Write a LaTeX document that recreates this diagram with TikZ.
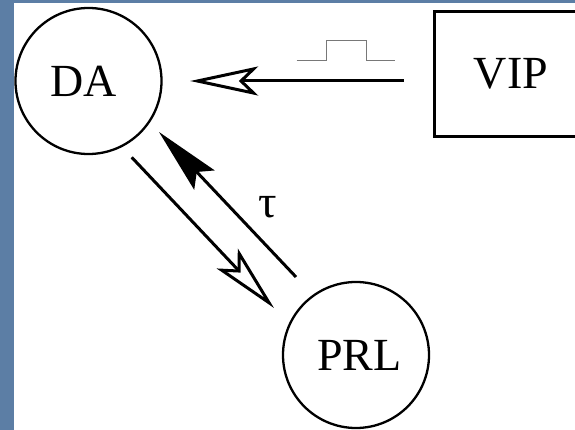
\documentclass[tikz,border=0pt]{standalone}
\usepackage{fontspec}
\setmainfont{Liberation Serif}
\usetikzlibrary{arrows.meta,calc}
\definecolor{bgblue}{RGB}{92,126,165}
\definecolor{pulsegray}{RGB}{120,120,120}
\newcommand{\nudge}[3]{\raisebox{#2}{\hspace*{#1}#3}}
\begin{document}
\begin{tikzpicture}[x=1pt,y=-1pt,
  unit/.style={circle,draw,line width=2.3pt,minimum size=146pt,inner sep=0pt,font=\fontsize{46}{50}\selectfont},
  boxnode/.style={rectangle,draw,line width=3pt,minimum width=160pt,minimum height=125pt,inner sep=0pt,font=\fontsize{46}{50}\selectfont},
  lbl/.style={inner sep=0pt,font=\fontsize{46}{50}\selectfont},
  conn/.style={line width=3pt},
  openhead/.style={-{Stealth[length=68pt,width=29pt,inset=15pt,fill=white]}},
  fullhead/.style={-{Stealth[length=66pt,width=28pt,inset=11pt]}},
  pulse/.style={line width=1pt,draw=pulsegray}]
\useasboundingbox (0,0) rectangle (575,430);
\clip (0,0) rectangle (575,430);
\fill[bgblue] (0,0) rectangle (575,430);
\fill[white] (14,3.5) rectangle (575,430);
\node[unit] (DA) at (88.5,81) {\nudge{-10pt}{-3pt}{DA}};
\node[unit] (PRL) at (356,355) {\nudge{7pt}{-6pt}{PRL}};
\node[boxnode] (VIP) at (514.5,74) {\nudge{-7pt}{-1pt}{VIP}};
\node[lbl] (tau) at (267.5,207) {τ};
\draw[conn,openhead,shorten <=29.5pt,shorten >=27.5pt] (VIP.west |- DA.east) -- (DA.east);
\draw[pulse] (296.7,61) -- (326,61) -- (326,40.7) -- (366,40.7) -- (366,61) -- (395,61);
\draw[conn,openhead] ([shift={(43.2,76.3)}]DA.center) -- ([shift={(-82,-47)}]PRL.center);
\draw[conn,fullhead] ([shift={(-60,-78)}]PRL.center) -- ([shift={(70.5,51)}]DA.center);
\end{tikzpicture}
\end{document}
